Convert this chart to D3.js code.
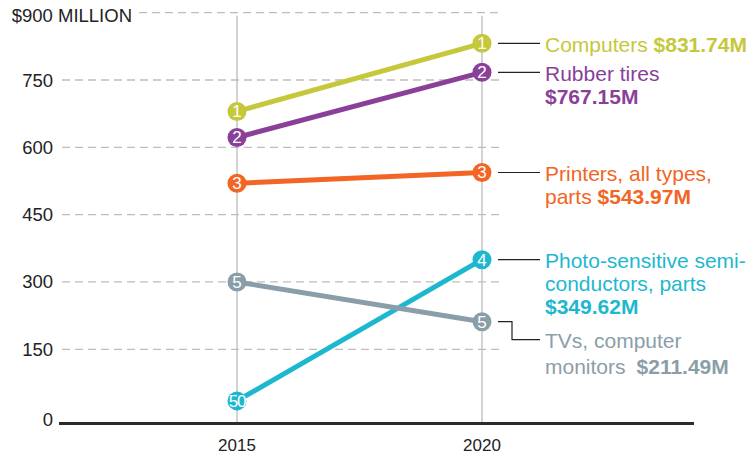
<!DOCTYPE html>
<html>
<head>
<meta charset="utf-8">
<script src="https://cdn.jsdelivr.net/npm/d3@7"></script>
<style>
  body { margin: 0; background: #fff; }
  text { font-family: "Liberation Sans", Arial, Helvetica, sans-serif; }
</style>
</head>
<body>
<div id="chart"></div>
<script>
// data
const years = [2015, 2020];
const categories = ["Computers", "Rubber tires", "Printers, all types, parts",
  "Photo-sensitive semiconductors, parts", "TVs, computer monitors"];
const values2015 = [680, 622, 520, 35, 300];
const values2020 = [831.74, 767.15, 543.97, 349.62, 211.49];
const ranks2015 = ["1", "2", "3", "50", "5"];
const ranks2020 = ["1", "2", "3", "4", "5"];
const colors = ["#c5c83a", "#8a3f98", "#f26524", "#1db8cf", "#8a9ea9"];
const yTicks = [0, 150, 300, 450, 600, 750, 900];
// label lines: [normal text, bold text]
const labelLines = [
  [["Computers ", "$831.74M"]],
  [["Rubber tires", ""], ["", "$767.15M"]],
  [["Printers, all types,", ""], ["parts ", "$543.97M"]],
  [["Photo-sensitive semi-", ""], ["conductors, parts", ""], ["", "$349.62M"]],
  [["TVs, computer", ""], ["monitors", "$211.49M"]]
];

const width = 755, height = 455;

const svg = d3.select("#chart").append("svg")
  .attr("width", width)
  .attr("height", height);

const x = d3.scalePoint().domain(years).range([237, 482]);
const y = d3.scaleLinear().domain([0, 900]).range([416.6, 12.7]);

// horizontal dashed gridlines
yTicks.filter(d => d > 0).forEach(t => {
  svg.append("line")
    .attr("x1", t === 900 ? 139 : 62)
    .attr("x2", 503)
    .attr("y1", y(t)).attr("y2", y(t))
    .attr("stroke", "#bdbdbd")
    .attr("stroke-width", 1.3)
    .attr("stroke-dasharray", "8,5");
});

// vertical year lines
years.forEach(yr => {
  svg.append("line")
    .attr("x1", x(yr)).attr("x2", x(yr))
    .attr("y1", y(900) + 3).attr("y2", y(0) + 7)
    .attr("stroke", "#bbbbbb")
    .attr("stroke-width", 1.3);
});

// baseline
svg.append("line")
  .attr("x1", 59).attr("x2", 694)
  .attr("y1", y(0) + 7).attr("y2", y(0) + 7)
  .attr("stroke", "#2b2b2b")
  .attr("stroke-width", 3);

// y tick labels
svg.selectAll(".ytick")
  .data(yTicks.filter(d => d < 900))
  .join("text")
  .attr("class", "ytick")
  .attr("x", 53)
  .attr("y", d => d === 0 ? y(0) + 9 : y(d) + 6.5)
  .attr("text-anchor", "end")
  .attr("font-size", "18.5px")
  .attr("fill", "#222")
  .text(d => d);

svg.append("text")
  .attr("x", 132)
  .attr("y", y(900) + 9.5)
  .attr("text-anchor", "end")
  .attr("font-size", "18.5px")
  .attr("fill", "#222")
  .text("$900 MILLION");

// x labels
svg.selectAll(".xtick")
  .data(years)
  .join("text")
  .attr("class", "xtick")
  .attr("x", d => x(d))
  .attr("y", 451)
  .attr("text-anchor", "middle")
  .attr("font-size", "17px")
  .attr("fill", "#222")
  .text(d => d);

// series lines
const series = categories.map((c, i) => ({
  name: c, color: colors[i],
  pts: [
    { year: years[0], value: values2015[i], rank: ranks2015[i] },
    { year: years[1], value: values2020[i], rank: ranks2020[i] }
  ]
}));

const line = d3.line().x(d => x(d.year)).y(d => y(d.value));

svg.selectAll(".series")
  .data(series)
  .join("path")
  .attr("class", "series")
  .attr("d", d => line(d.pts))
  .attr("fill", "none")
  .attr("stroke", d => d.color)
  .attr("stroke-width", 5);

// dots with ranks
series.forEach(s => {
  const g = svg.append("g");
  s.pts.forEach(p => {
    g.append("circle")
      .attr("cx", x(p.year)).attr("cy", y(p.value))
      .attr("r", 9.5)
      .attr("fill", s.color);
    g.append("text")
      .attr("x", x(p.year)).attr("y", y(p.value) + 6)
      .attr("text-anchor", "middle")
      .attr("font-size", "17px")
      .attr("letter-spacing", p.rank.length > 1 ? "-1.2px" : "0")
      .attr("fill", "#fff")
      .text(p.rank);
  });
});

// leader lines and labels
series.forEach((s, i) => {
  const cy = y(values2020[i]);
  const x0 = x(years[1]) + 16;
  const drop = i === 4 ? 18 : 0;
  const lh = i === 4 ? 26 : 23;
  const path = drop
    ? `M${x0},${cy}H${x0 + 14}V${cy + drop}H540`
    : `M${x0},${cy}H540`;
  svg.append("path")
    .attr("d", path)
    .attr("fill", "none")
    .attr("stroke", "#222")
    .attr("stroke-width", 1.2);

  const t = svg.append("text")
    .attr("font-size", "21px")
    .attr("fill", s.color);
  labelLines[i].forEach((ln, k) => {
    const ty = cy + drop + 8.5 + k * lh;
    let first = true;
    if (ln[0]) {
      t.append("tspan").attr("x", 545).attr("y", ty).text(ln[0]);
      first = false;
    }
    if (ln[1]) {
      const b = t.append("tspan").attr("font-weight", "bold").text(ln[1]);
      if (first) b.attr("x", 545).attr("y", ty);
      else if (i === 4) b.attr("dx", 11);
    }
  });
});
</script>
</body>
</html>
